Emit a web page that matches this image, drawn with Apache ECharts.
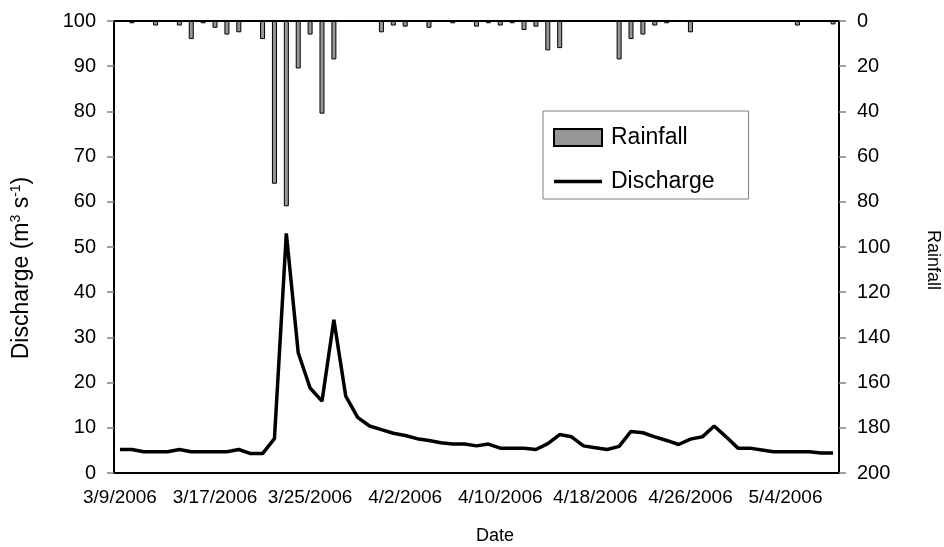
<!DOCTYPE html>
<html>
<head>
<meta charset="utf-8">
<script src="https://cdn.jsdelivr.net/npm/echarts@6/dist/echarts.min.js"></script>
<style>
  html, body { margin: 0; padding: 0; background: #fff; }
  #chart { width: 944px; height: 547px; }
</style>
</head>
<body>
<div id="chart"></div>
<script>
const dates = [
  '3/9/2006', '3/10/2006', '3/11/2006', '3/12/2006', '3/13/2006', '3/14/2006', '3/15/2006', '3/16/2006',
  '3/17/2006', '3/18/2006', '3/19/2006', '3/20/2006', '3/21/2006', '3/22/2006', '3/23/2006', '3/24/2006',
  '3/25/2006', '3/26/2006', '3/27/2006', '3/28/2006', '3/29/2006', '3/30/2006', '3/31/2006', '4/1/2006',
  '4/2/2006', '4/3/2006', '4/4/2006', '4/5/2006', '4/6/2006', '4/7/2006', '4/8/2006', '4/9/2006',
  '4/10/2006', '4/11/2006', '4/12/2006', '4/13/2006', '4/14/2006', '4/15/2006', '4/16/2006', '4/17/2006',
  '4/18/2006', '4/19/2006', '4/20/2006', '4/21/2006', '4/22/2006', '4/23/2006', '4/24/2006', '4/25/2006',
  '4/26/2006', '4/27/2006', '4/28/2006', '4/29/2006', '4/30/2006', '5/1/2006', '5/2/2006', '5/3/2006',
  '5/4/2006', '5/5/2006', '5/6/2006', '5/7/2006', '5/8/2006'
];

// mm
const rainfall = [
  0, 1, 0, 2, 0, 2, 8, 1, 3, 6, 5,
  0, 8, 72, 82, 21, 6, 41, 17, 0,
  0, 0, 5, 2, 2.5, 0, 3, 0, 1, 0,
  2.5, 1, 2, 1, 4, 2.5, 13, 12, 0, 0,
  0, 0, 17, 8, 6, 2, 1, 0, 5, 0,
  0, 0, 0, 0, 0, 0, 0, 2, 0, 0,
  1.5
];

// m3/s
const discharge = [
  5.2, 5.2, 4.7, 4.7, 4.7, 5.2, 4.7, 4.7, 4.7, 4.7, 5.2,
  4.3, 4.3, 7.6, 53.0, 26.6, 18.8, 15.9, 33.9, 17.0,
  12.3, 10.4, 9.6, 8.8, 8.3, 7.6, 7.2, 6.7, 6.4, 6.4,
  6.0, 6.4, 5.5, 5.5, 5.5, 5.2, 6.5, 8.5, 8.0, 6.0,
  5.6, 5.2, 5.9, 9.2, 8.9, 8.0, 7.2, 6.3, 7.5, 8.0,
  10.4, 8.0, 5.5, 5.5, 5.1, 4.7, 4.7, 4.7, 4.7, 4.4,
  4.4
];

const FONT = '"Liberation Sans", Arial, sans-serif';

const myChart = echarts.init(document.getElementById('chart'));

const option = {
  animation: false,
  backgroundColor: '#fff',
  textStyle: { fontFamily: FONT, color: '#000' },
  grid: { left: 114, top: 21, width: 725, height: 452 },
  legend: {
    orient: 'vertical',
    left: 543,
    top: 111,
    borderColor: '#808080',
    borderWidth: 1,
    padding: [15, 34, 6, 10],
    itemWidth: 48,
    itemHeight: 17,
    itemGap: 21,
    textStyle: { fontFamily: FONT, fontSize: 23, color: '#000', padding: [0, 0, 0, 4] },
    data: [
      { name: 'Rainfall', icon: 'rect' },
      {
        name: 'Discharge',
        icon: 'path://M0,0L48,0L48,3.5L0,3.5Z',
        itemStyle: { color: '#000', borderWidth: 0 }
      }
    ]
  },
  xAxis: [
    {
      type: 'category',
      data: dates,
      position: 'bottom',
      axisLine: { lineStyle: { color: '#000', width: 2 } },
      axisTick: { interval: 0, length: 6, lineStyle: { color: '#000', width: 1.5 } },
      axisLabel: { interval: 7, fontSize: 19, margin: 15, color: '#000', fontFamily: FONT },
      splitLine: { show: false }
    },
    {
      type: 'category',
      data: dates,
      position: 'top',
      axisLine: { lineStyle: { color: '#000', width: 2 } },
      axisTick: { show: false },
      axisLabel: { show: false },
      splitLine: { show: false }
    }
  ],
  yAxis: [
    {
      type: 'value',
      min: 0,
      max: 100,
      interval: 10,
      position: 'left',
      axisLine: { show: true, lineStyle: { color: '#000', width: 2 } },
      axisTick: { show: true, length: 7, lineStyle: { color: '#808080', width: 1.5 } },
      axisLabel: { fontSize: 20, margin: 18, color: '#000', fontFamily: FONT },
      splitLine: { show: false }
    },
    {
      type: 'value',
      min: 0,
      max: 200,
      interval: 20,
      inverse: true,
      position: 'right',
      axisLine: { show: true, lineStyle: { color: '#000', width: 2 } },
      axisTick: { show: true, length: 7, lineStyle: { color: '#808080', width: 1.5 } },
      axisLabel: { fontSize: 20, margin: 18, color: '#000', fontFamily: FONT },
      splitLine: { show: false }
    }
  ],
  series: [
    {
      name: 'Rainfall',
      type: 'bar',
      xAxisIndex: 0,
      yAxisIndex: 1,
      barWidth: 5,
      data: rainfall,
      itemStyle: { color: '#969696', borderColor: '#000', borderWidth: 1 }
    },
    {
      name: 'Discharge',
      type: 'line',
      xAxisIndex: 0,
      yAxisIndex: 0,
      data: discharge,
      symbol: 'none',
      lineStyle: { color: '#000', width: 3.5 },
      itemStyle: { color: '#000' },
      z: 3
    }
  ],
  graphic: [
    {
      type: 'text',
      x: 22,
      y: 268,
      rotation: Math.PI / 2,
      style: {
        text: '{a|Discharge (m}{s|3}{a| s}{s|-1}{a|)}',
        align: 'center',
        verticalAlign: 'middle',
        fill: '#000',
        rich: {
          a: { fontFamily: FONT, fontSize: 23, fill: '#000' },
          s: { fontFamily: FONT, fontSize: 14, fill: '#000', padding: [0, 0, 11, 0] }
        }
      }
    },
    {
      type: 'text',
      x: 933,
      y: 260,
      rotation: -Math.PI / 2,
      style: {
        text: 'Rainfall',
        align: 'center',
        verticalAlign: 'middle',
        fontFamily: FONT,
        fontSize: 18,
        fill: '#000'
      }
    },
    {
      type: 'text',
      x: 495,
      y: 536,
      style: {
        text: 'Date',
        align: 'center',
        verticalAlign: 'middle',
        fontFamily: FONT,
        fontSize: 18,
        fill: '#000'
      }
    }
  ]
};

myChart.setOption(option);
</script>
</body>
</html>
